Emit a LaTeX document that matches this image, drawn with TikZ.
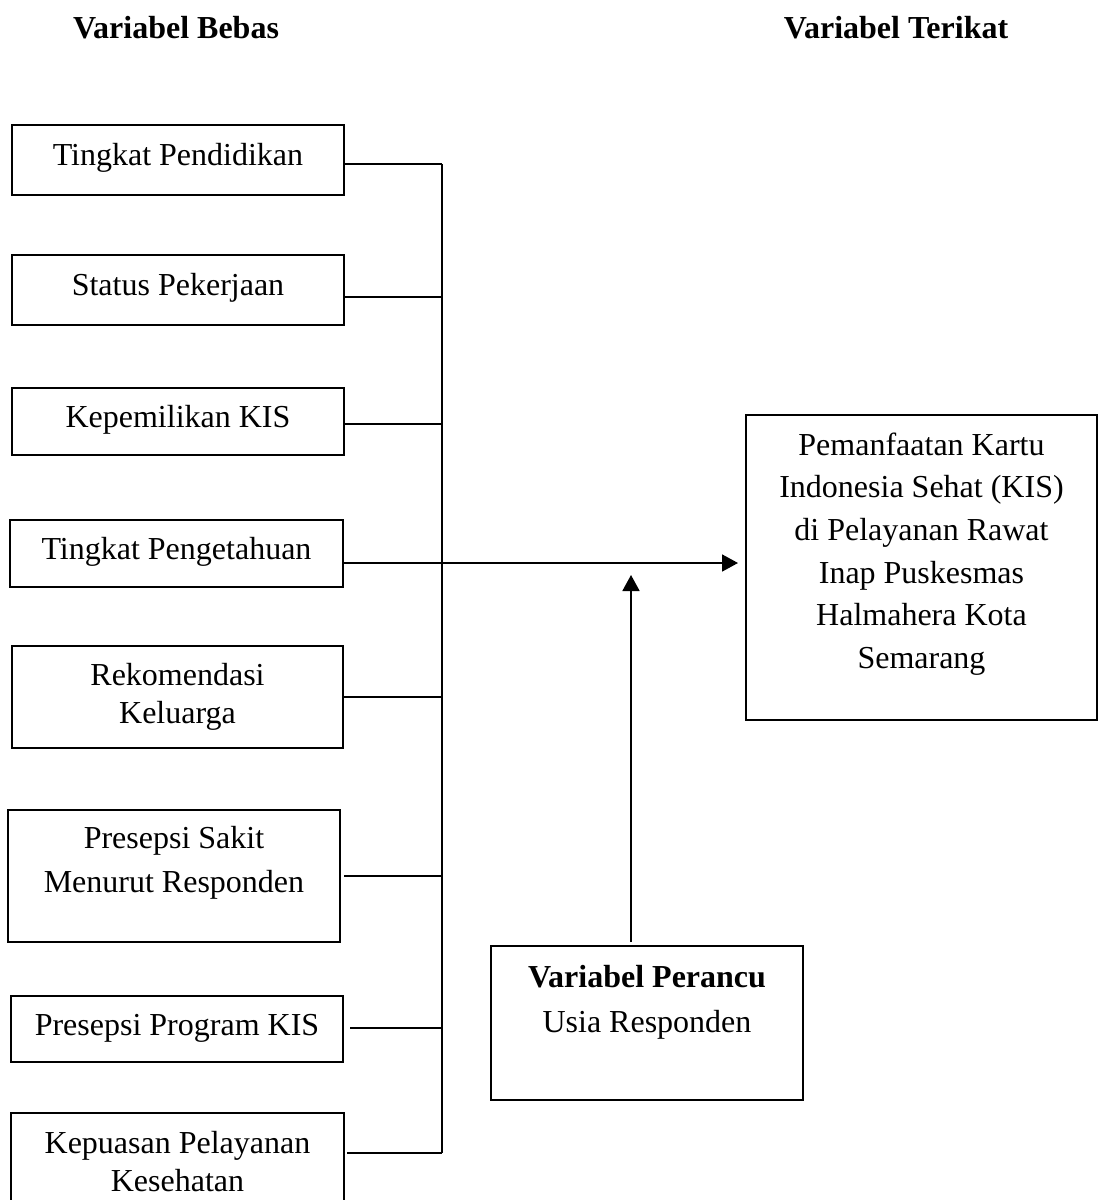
\documentclass[tikz,border=0pt]{standalone}
\usepackage{fontspec}
\setmainfont{Liberation Serif}
\usetikzlibrary{arrows.meta}
\begin{document}
\begin{tikzpicture}[x=1pt,y=-1pt,
  box/.style={draw, line width=1.8pt, inner sep=0pt, outer sep=0pt},
  txt/.style={font=\fontsize{32}{38}\selectfont, align=center, inner sep=0pt},
  ttl/.style={font=\fontsize{32}{38}\selectfont\bfseries, inner sep=0pt},
  link/.style={line width=1.8pt},
  arr/.style={line width=1.8pt, -{Triangle[length=16pt,width=17pt]}}]
\useasboundingbox (0,0) rectangle (1098,1200);
\clip (0,0) rectangle (1098,1200);
% titles
\node[ttl] (h1) at (176,28) {Variabel Bebas};
\node[ttl] (h2) at (896,28) {Variabel Terikat};
% left boxes
\node[box, minimum width=332pt, minimum height=70pt] (b1) at (178,160) {};
\node[txt] (t1) at (178,158) {Tingkat Pendidikan};
\node[box, minimum width=332pt, minimum height=70pt] (b2) at (178,290) {};
\node[txt] (t2) at (178,288) {Status Pekerjaan};
\node[box, minimum width=332pt, minimum height=67pt] (b3) at (178,421.5) {};
\node[txt] (t3) at (178,420) {Kepemilikan KIS};
\node[box, minimum width=333pt, minimum height=67pt] (b4) at (176.5,553.5) {};
\node[txt] (t4) at (176.5,552) {Tingkat Pengetahuan};
\node[box, minimum width=331pt, minimum height=102pt] (b5) at (177.5,697) {};
\node[txt] (t5) at (177.5,697) {Rekomendasi\\Keluarga};
\node[box, minimum width=332pt, minimum height=132pt] (b6) at (174,876) {};
\node[txt, font=\fontsize{32}{44}\selectfont] (t6) at (174,863) {Presepsi Sakit\\Menurut Responden};
\node[box, minimum width=332pt, minimum height=66pt] (b7) at (177,1029) {};
\node[txt] (t7) at (177,1028) {Presepsi Program KIS};
\node[box, minimum width=333pt, minimum height=117pt] (b8) at (177.5,1171.5) {};
\node[txt] (t8) at (177.5,1162) {Kepuasan Pelayanan\\Kesehatan};
% right box
\node[box, minimum width=351pt, minimum height=305pt] (r) at (921.5,567.5) {};
\node[txt, font=\fontsize{32}{42.6}\selectfont] (tr) at (921.5,554) {Pemanfaatan Kartu\\Indonesia Sehat (KIS)\\di Pelayanan Rawat\\Inap Puskesmas\\Halmahera Kota\\Semarang};
% confounder box
\node[box, minimum width=312pt, minimum height=154pt] (c) at (647,1023) {};
\node[ttl] (tc1) at (647,977) {Variabel Perancu};
\node[txt] (tc2) at (647,1025) {Usia Responden};
% bus
\coordinate (j1) at (442,164);
\coordinate (j2) at (442,297);
\coordinate (j3) at (442,424);
\coordinate (j4) at (442,563);
\coordinate (j5) at (442,697);
\coordinate (j6) at (442,876);
\coordinate (j7) at (442,1028);
\coordinate (j8) at (442,1153);
\draw[link] (j1) -- (j8);
\draw[link] (j1 -| b1.east) -- (j1);
\draw[link] (j2 -| b2.east) -- (j2);
\draw[link] (j3 -| b3.east) -- (j3);
\draw[link] (j4 -| b4.east) -- (j4);
\draw[link] (j5 -| b5.east) -- (j5);
\draw[link] ([xshift=4pt]j6 -| b6.east) -- (j6);
\draw[link] ([xshift=7pt]j7 -| b7.east) -- (j7);
\draw[link] ([xshift=3pt]j8 -| b8.east) -- (j8);
% arrows
\coordinate (m) at (631,575);
\coordinate (cs) at (631,942);
\draw[arr] (j4) -- ([xshift=-8pt]j4 -| r.west);
\draw[arr] (cs) -- (m);
\end{tikzpicture}
\end{document}
